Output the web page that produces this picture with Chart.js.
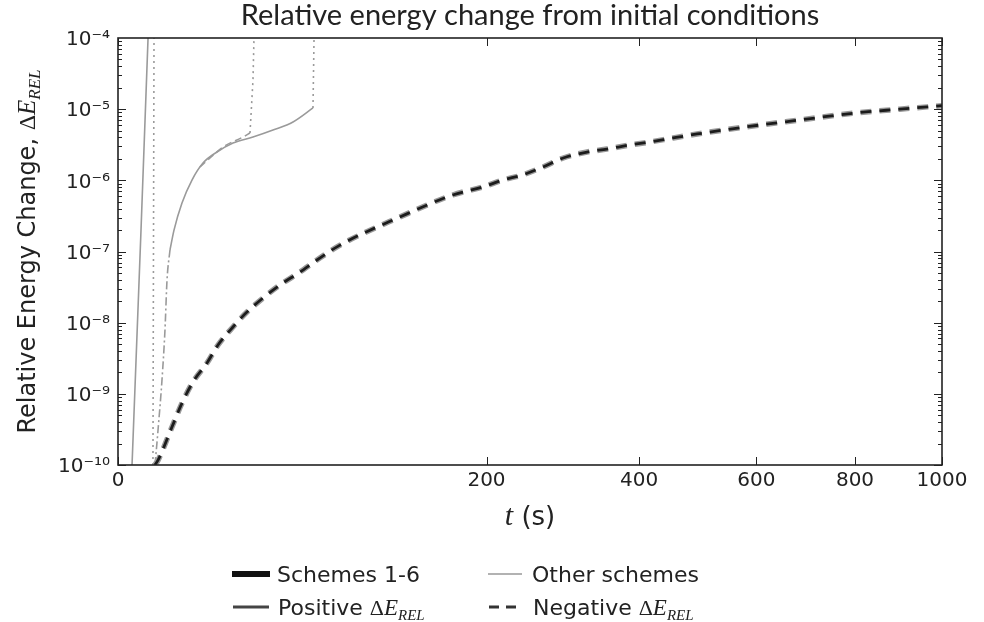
<!DOCTYPE html>
<html>
<head>
<meta charset="utf-8">
<script src="https://cdn.jsdelivr.net/npm/chart.js@4.4.1/dist/chart.umd.min.js"></script>
<style>
  html, body { margin: 0; padding: 0; background: #fff; }
</style>
</head>
<body>
<canvas id="energyChart" width="984" height="622"></canvas>
<script>
/* ------------------------------------------------------------
   data
   ------------------------------------------------------------ */
const xTicks = [0, 200, 400, 600, 800, 1000];
const yMinExp = -10;
const yMaxExp = -4;

// schemes 1-6 (all overlapping, negative change)
const schemesT  = [2.0, 2.36, 4.29, 6.03, 8.28, 11.66, 14.73, 19.47, 24.5, 30.96, 38.6, 48.8, 58.3, 72.6,
                   117, 165, 196, 218, 241, 266, 292, 324, 352, 386, 417, 454, 494, 579, 685, 800, 900, 1000];
const schemesDE = [1.0e-10, 1.17e-10, 3.42e-10, 7.4e-10, 1.47e-9, 2.71e-9, 4.85e-9, 8.7e-9, 1.41e-8, 2.22e-8,
                   3.38e-8, 5.15e-8, 7.6e-8, 1.23e-7, 3.05e-7, 6.22e-7, 8.06e-7, 1.01e-6, 1.19e-6, 1.54e-6,
                   2.06e-6, 2.5e-6, 2.75e-6, 3.14e-6, 3.46e-6, 3.94e-6, 4.48e-6, 5.61e-6, 7.05e-6, 8.83e-6,
                   1.0e-5, 1.12e-5];

// other schemes
const steepT  = [0.29, 0.78, 1.33];
const steepDE = [1e-10, 2.0e-7, 1e-4];

const blowupT  = [1.80, 1.91];
const blowupDE = [1e-10, 1e-4];

const crossT  = [2.02, 2.36, 2.85, 3.25, 3.54, 3.98];
const crossDE = [1e-10, 3.1e-10, 1.57e-9, 7.9e-9, 3.98e-8, 1.05e-7];

const riseT  = [3.98, 4.62, 6.03, 8.06, 10.64, 14.43, 19.47, 26.84, 35.38, 45.1, 55.99];
const riseDE = [1.05e-7, 2.0e-7, 4.81e-7, 1.01e-6, 1.75e-6, 2.5e-6, 3.35e-6, 4.06e-6, 5.09e-6, 6.61e-6, 1.04e-5];

const riseEndT  = [55.99, 56.6];
const riseEndDE = [1.04e-5, 1e-4];

const negT  = [9.9, 12.46, 16.23, 23.0, 25.66];
const negDE = [1.54e-6, 2.06e-6, 2.94e-6, 4.06e-6, 4.62e-6];

const negEndT  = [25.66, 26.84, 27.24];
const negEndDE = [4.62e-6, 2.57e-5, 1e-4];

/* ------------------------------------------------------------
   helpers
   ------------------------------------------------------------ */
function pts(ts, vs) {
  return ts.map((t, i) => ({ x: t, y: vs[i] }));
}

const SUP = { "-": "\u207B", "0": "\u2070", "1": "\u00B9", "2": "\u00B2", "3": "\u00B3",
              "4": "\u2074", "5": "\u2075", "6": "\u2076", "7": "\u2077", "8": "\u2078", "9": "\u2079" };
function decadeLabel(e) {
  return "10" + String(e).split("").map(c => SUP[c]).join("");
}

// text made of pieces with different fonts (for ΔE_REL etc)
function drawPieces(ctx, pieces, x, y, align) {
  let total = 0;
  pieces.forEach(p => { ctx.font = p.font; p.w = ctx.measureText(p.text).width; total += p.w; });
  let cx = align === "center" ? x - total / 2 : x;
  ctx.textAlign = "left";
  ctx.textBaseline = "alphabetic";
  pieces.forEach(p => {
    ctx.font = p.font;
    ctx.fillText(p.text, cx, y + (p.dy || 0));
    cx += p.w;
  });
}

function deltaE(size) {
  return [
    { text: "\u0394", font: size + "px 'Liberation Serif'" },
    { text: "E", font: "italic " + (size + 1) + "px 'Liberation Serif'" },
    { text: "REL", font: "italic " + Math.round(size * 0.7) + "px 'Liberation Serif'", dy: Math.round(size * 0.22) }
  ];
}

/* ------------------------------------------------------------
   sqrt x axis
   ------------------------------------------------------------ */
class SqrtScale extends Chart.LinearScale {
  buildTicks() {
    return xTicks.map(v => ({ value: v }));
  }
  getPixelForValue(value) {
    if (value === null || isNaN(value)) return NaN;
    const a = Math.sqrt(this.min), b = Math.sqrt(this.max);
    return this.getPixelForDecimal((Math.sqrt(Math.max(value, 0)) - a) / (b - a));
  }
  getValueForPixel(pixel) {
    const a = Math.sqrt(this.min), b = Math.sqrt(this.max);
    const s = a + this.getDecimalForPixel(pixel) * (b - a);
    return s * s;
  }
}
SqrtScale.id = "sqrt";
SqrtScale.defaults = Chart.LinearScale.defaults;
Chart.register(SqrtScale);

/* ------------------------------------------------------------
   frame, inward ticks, axis titles, legend
   ------------------------------------------------------------ */
const decorPlugin = {
  id: "decor",
  afterDraw(chart) {
    const ctx = chart.ctx;
    const a = chart.chartArea;
    const xs = chart.scales.x;
    const ys = chart.scales.y;

    ctx.save();
    ctx.strokeStyle = "#222";
    ctx.lineWidth = 1;
    ctx.beginPath();
    xTicks.forEach(v => {
      const px = Math.round(xs.getPixelForValue(v)) + 0.5;
      ctx.moveTo(px, a.bottom); ctx.lineTo(px, a.bottom - 8);
      ctx.moveTo(px, a.top); ctx.lineTo(px, a.top + 8);
    });
    for (let e = yMinExp; e < yMaxExp; e++) {
      for (let m = 1; m <= 9; m++) {
        const py = Math.round(ys.getPixelForValue(m * Math.pow(10, e))) + 0.5;
        const len = m === 1 ? 8 : 4;
        ctx.moveTo(a.left, py); ctx.lineTo(a.left + len, py);
        ctx.moveTo(a.right, py); ctx.lineTo(a.right - len, py);
      }
    }
    ctx.stroke();

    ctx.lineWidth = 1.6;
    ctx.strokeRect(a.left, a.top, a.right - a.left, a.bottom - a.top);

    ctx.fillStyle = "#222";

    // x title
    const cx = (a.left + a.right) / 2;
    drawPieces(ctx, [
      { text: "t", font: "italic 30px 'Liberation Serif'" },
      { text: " (s)", font: "26px 'DejaVu Sans'" }
    ], cx, 525, "center");

    // y title
    ctx.save();
    ctx.translate(35, (a.top + a.bottom) / 2);
    ctx.rotate(-Math.PI / 2);
    drawPieces(ctx, [{ text: "Relative Energy Change, ", font: "24px 'DejaVu Sans'" }].concat(deltaE(24)), 0, 0, "center");
    ctx.restore();

    // legend
    const L1 = 574, L2 = 607;
    ctx.lineCap = "butt";
    ctx.strokeStyle = "#111"; ctx.lineWidth = 6;
    ctx.beginPath(); ctx.moveTo(232, L1); ctx.lineTo(270, L1); ctx.stroke();
    ctx.strokeStyle = "#999"; ctx.lineWidth = 1.5;
    ctx.beginPath(); ctx.moveTo(488, L1); ctx.lineTo(522, L1); ctx.stroke();
    ctx.strokeStyle = "#444"; ctx.lineWidth = 3;
    ctx.beginPath(); ctx.moveTo(233, L2); ctx.lineTo(269, L2); ctx.stroke();
    ctx.strokeStyle = "#333"; ctx.setLineDash([10, 7]);
    ctx.beginPath(); ctx.moveTo(489, L2); ctx.lineTo(522, L2); ctx.stroke();
    ctx.setLineDash([]);

    const lf = "22px 'DejaVu Sans'";
    drawPieces(ctx, [{ text: "Schemes 1-6", font: lf }], 277, L1 + 8, "left");
    drawPieces(ctx, [{ text: "Other schemes", font: lf }], 532, L1 + 8, "left");
    drawPieces(ctx, [{ text: "Positive ", font: lf }].concat(deltaE(22)), 278, L2 + 8, "left");
    drawPieces(ctx, [{ text: "Negative ", font: lf }].concat(deltaE(22)), 533, L2 + 8, "left");

    ctx.restore();
  }
};

/* ------------------------------------------------------------
   chart (first dataset is drawn on top)
   ------------------------------------------------------------ */
const GRAY = "#9a9a9a";
const tickFont = { family: "'DejaVu Sans'", size: 20 };

new Chart(document.getElementById("energyChart"), {
  type: "line",
  data: {
    datasets: [
      { label: "Schemes 1-6", data: pts(schemesT, schemesDE), borderColor: "#1c1c1c", borderWidth: 2.8,
        borderDash: [11, 8], cubicInterpolationMode: "monotone" },
      { label: "Schemes 1-6 halo", data: pts(schemesT, schemesDE), borderColor: "#9a9a9a", borderWidth: 5.5,
        borderDash: [11, 8], cubicInterpolationMode: "monotone" },
      { label: "steep", data: pts(steepT, steepDE), borderColor: GRAY, borderWidth: 1.6 },
      { label: "blowup", data: pts(blowupT, blowupDE), borderColor: GRAY, borderWidth: 1.6, borderDash: [2, 4] },
      { label: "cross", data: pts(crossT, crossDE), borderColor: GRAY, borderWidth: 1.6, borderDash: [8, 3, 2, 3],
        cubicInterpolationMode: "monotone" },
      { label: "rise", data: pts(riseT, riseDE), borderColor: GRAY, borderWidth: 1.6, cubicInterpolationMode: "monotone" },
      { label: "riseEnd", data: pts(riseEndT, riseEndDE), borderColor: GRAY, borderWidth: 1.6, borderDash: [2, 4] },
      { label: "neg", data: pts(negT, negDE), borderColor: GRAY, borderWidth: 1.6, borderDash: [7, 4],
        cubicInterpolationMode: "monotone" },
      { label: "negEnd", data: pts(negEndT, negEndDE), borderColor: GRAY, borderWidth: 1.6, borderDash: [2, 4] }
    ]
  },
  options: {
    responsive: false,
    animation: false,
    devicePixelRatio: 1,
    elements: { point: { radius: 0, hoverRadius: 0 }, line: { tension: 0, fill: false } },
    layout: { padding: { left: 0, right: 42, top: 0, bottom: 127 } },
    plugins: {
      legend: { display: false },
      tooltip: { enabled: false },
      title: {
        display: true,
        fullSize: false,
        text: "Relative energy change from initial conditions",
        color: "#222",
        font: { family: "Lato", size: 29, weight: "normal" },
        padding: { top: -2, bottom: 5.2 }
      }
    },
    scales: {
      x: {
        type: "sqrt",
        min: 0,
        max: 1000,
        grid: { display: false, drawTicks: false },
        border: { display: false },
        ticks: { autoSkip: false, maxRotation: 0, padding: 4, color: "#222", font: tickFont, callback: v => String(v) },
        afterFit: s => { s.height = 30; }
      },
      y: {
        type: "logarithmic",
        min: Math.pow(10, yMinExp),
        max: Math.pow(10, yMaxExp),
        grid: { display: false, drawTicks: false },
        border: { display: false },
        ticks: {
          autoSkip: false,
          padding: 8,
          labelOffset: 2,
          color: "#222",
          font: tickFont,
          callback: v => {
            const e = Math.log10(v);
            return Math.abs(e - Math.round(e)) < 1e-6 ? decadeLabel(Math.round(e)) : "";
          }
        },
        afterFit: s => { s.width = 118; }
      }
    }
  },
  plugins: [decorPlugin]
});
</script>
</body>
</html>
